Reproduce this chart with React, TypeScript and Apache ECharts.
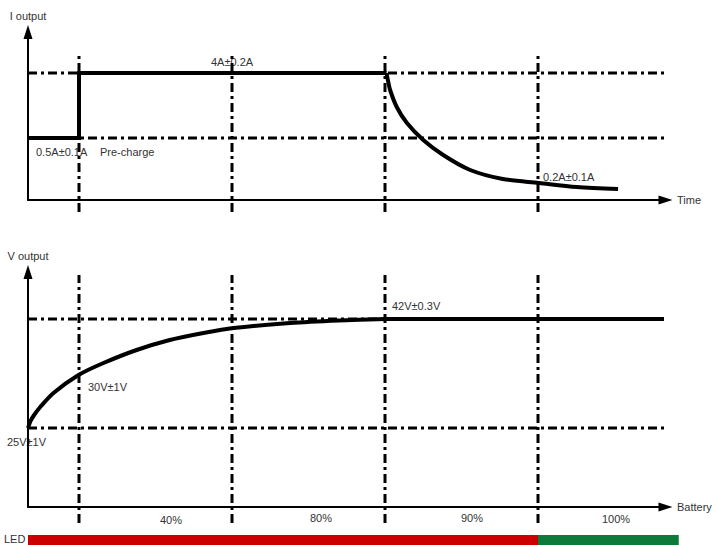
import React, { useEffect, useRef } from "react";
import * as echarts from "echarts";

// ---- data (schematic levels) ----
// x: time / charge progress units, y: schematic level units
const guideX = [1, 4, 7, 10];
const currentLevels = { cc: 12.7, pre: 6.2 };
const currentStep: number[][] = [
  [0, 6.2],
  [1, 6.2],
  [1, 12.7],
  [7.03, 12.7],
];
const currentDecay: number[][] = [
  [7.03, 12.7],
  [7.06, 11.9],
  [7.1, 11.0],
  [7.23, 9.3],
  [7.43, 7.7],
  [7.75, 6.0],
  [8.14, 4.5],
  [8.67, 3.0],
  [9.31, 2.1],
  [10.02, 1.7],
  [10.76, 1.3],
  [11.57, 1.1],
];
const voltageLevels = { cv: 18.8, start: 7.9 };
const voltageRise: number[][] = [
  [0, 7.9],
  [0.05, 8.6],
  [0.12, 9.2],
  [0.24, 10.0],
  [0.5, 11.4],
  [0.99, 13.2],
  [1.48, 14.4],
  [2.13, 15.7],
  [2.78, 16.7],
  [3.44, 17.4],
  [4.03, 17.9],
  [5.14, 18.4],
  [6.1, 18.65],
  [7.02, 18.8],
];
const voltageFlat: number[][] = [
  [7.02, 18.8],
  [12.47, 18.8],
];
const ledStages: number[][] = [
  [0, 10],
  [10, 12.76],
];
const ledColors = ["#cc0000", "#0b7a3a"];
const batteryLabels = ["40%", "80%", "90%", "100%"];
const currentLabels = ["4A±0.2A", "0.5A±0.1A", "Pre-charge", "0.2A±0.1A"];
const voltageLabels = ["30V±1V", "25V±1V", "42V±0.3V"];

const FONT = '"Liberation Sans", Arial, sans-serif';
const TXT = "#333";

export default function App() {
  const ref = useRef<HTMLDivElement>(null);
  useEffect(() => {
    if (!ref.current) return;
    const chart = echarts.init(ref.current, null, { renderer: "svg" });
    const dash = [9, 4, 3, 4];
    const guideStyle = { color: "#000", width: 3, type: dash as any };

    const axisLine = {
      show: true,
      onZero: false,
      symbol: ["none", "triangle"],
      symbolSize: [9, 14],
      lineStyle: { color: "#000", width: 2 },
    };
    const mkX = (gi: number, name: string) => ({
      type: "value",
      gridIndex: gi,
      min: 0,
      max: 12.5,
      name,
      nameLocation: "end",
      nameGap: 11.5,
      nameTextStyle: { color: TXT, fontSize: 11, fontFamily: FONT },
      axisLine,
      axisTick: { show: false },
      axisLabel: { show: false },
      splitLine: { show: false },
    });
    const mkY = (gi: number, name: string, max: number) => ({
      type: "value",
      gridIndex: gi,
      min: 0,
      max,
      name,
      nameLocation: "end",
      nameGap: 11,
      nameTextStyle: { color: TXT, fontSize: 11, fontFamily: FONT },
      axisLine,
      axisTick: { show: false },
      axisLabel: { show: false },
      splitLine: { show: false },
    });

    const series: any[] = [];
    const guide = (gi: number, data: number[][]) => ({
      type: "line",
      xAxisIndex: gi,
      yAxisIndex: gi,
      data,
      symbol: "none",
      clip: false,
      silent: true,
      z: 1,
      lineStyle: guideStyle,
    });
    guideX.forEach((x) => series.push(guide(0, [[x, -1.2], [x, 14.5]])));
    series.push(guide(0, [[0, currentLevels.cc], [12.5, currentLevels.cc]]));
    series.push(guide(0, [[0, currentLevels.pre], [12.5, currentLevels.pre]]));
    guideX.forEach((x) => series.push(guide(1, [[x, -1.6], [x, 23.2]])));
    series.push(guide(1, [[0, voltageLevels.cv], [12.5, voltageLevels.cv]]));
    series.push(guide(1, [[0, voltageLevels.start], [12.5, voltageLevels.start]]));

    const curveStyle = { color: "#000", width: 4 };
    const curve = (gi: number, data: number[][], smooth: any) => ({
      type: "line",
      xAxisIndex: gi,
      yAxisIndex: gi,
      data,
      symbol: "none",
      smooth,
      z: 3,
      lineStyle: { ...curveStyle, join: "miter" },
    });
    series.push(curve(0, currentStep, false));
    series.push(curve(0, currentDecay, 0.3));
    series.push(curve(1, voltageRise, 0.3));
    series.push(curve(1, voltageFlat, false));
    series.push({
      type: "custom",
      xAxisIndex: 1,
      yAxisIndex: 1,
      clip: false,
      silent: true,
      data: ledStages,
      encode: { x: [0, 1] },
      renderItem: (params: any, api: any) => {
        const x0 = api.coord([api.value(0), 0])[0];
        const x1 = api.coord([api.value(1), 0])[0];
        return {
          type: "rect",
          shape: { x: x0, y: 535, width: x1 - x0, height: 10 },
          style: { fill: ledColors[params.dataIndex] },
        };
      },
    });

    const txt = (text: string, x: number, y: number) => ({
      type: "text",
      x,
      y,
      silent: true,
      style: {
        text,
        fill: TXT,
        fontSize: 11,
        fontFamily: FONT,
        align: "left",
        verticalAlign: "middle",
      },
    });

    chart.setOption({
      animation: false,
      backgroundColor: "#fff",
      grid: [
        { left: 28, top: 32, width: 637.5, height: 168 },
        { left: 28, top: 272, width: 637.5, height: 235 },
      ],
      xAxis: [mkX(0, "Time"), mkX(1, "Battery")],
      yAxis: [mkY(0, "I output", 16.8), mkY(1, "V output", 23.5)],
      series,
      graphic: [
        txt(currentLabels[0], 211, 62),
        txt(currentLabels[1], 36, 152),
        txt(currentLabels[2], 100, 152),
        txt(currentLabels[3], 543, 177),
        txt(voltageLabels[0], 88, 387),
        txt(voltageLabels[1], 7, 442),
        txt(voltageLabels[2], 392, 306),
        txt(batteryLabels[0], 160, 520),
        txt(batteryLabels[1], 310, 518),
        txt(batteryLabels[2], 461, 518),
        txt(batteryLabels[3], 602, 519),
        txt("LED", 4, 539),
      ],
    });
    return () => chart.dispose();
  }, []);
  return (
    <div
      ref={ref}
      style={{ position: "absolute", left: 0, top: 0, width: 722, height: 545 }}
    />
  );
}
